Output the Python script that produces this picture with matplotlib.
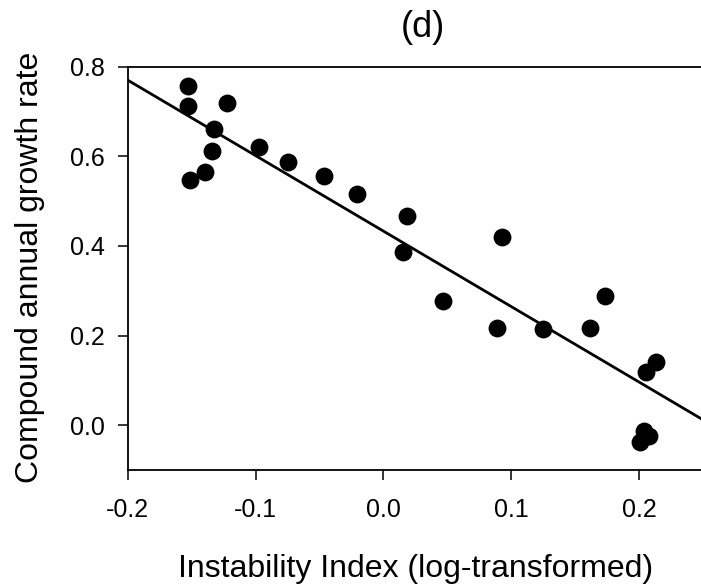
import matplotlib
matplotlib.use("Agg")
import matplotlib.pyplot as plt

plt.rcParams["font.family"] = ["Liberation Sans", "DejaVu Sans"]

# instability index (log-transformed) vs compound annual growth rate
instability = [-0.1525, -0.153, -0.122, -0.1329, -0.1337, -0.1397, -0.1512,
               -0.0973, -0.0749, -0.0462, -0.0205, 0.0187, 0.0155, 0.0926,
               0.0463, 0.0886, 0.1252, 0.1617, 0.1735, 0.2135, 0.2054,
               0.2041, 0.208, 0.2009]
growth = [0.757, 0.712, 0.720, 0.660, 0.612, 0.566, 0.547,
          0.620, 0.587, 0.556, 0.516, 0.467, 0.386, 0.419,
          0.278, 0.216, 0.214, 0.216, 0.289, 0.142, 0.119,
          -0.013, -0.024, -0.038]

# regression line end points
fit_x = [-0.2, 0.25]
fit_y = [0.770, 0.012]

fig = plt.figure(figsize=(7.01, 5.87), dpi=100)
ax = fig.add_axes([0.1822, 0.1993, 0.8207, 0.6871])

ax.plot(fit_x, fit_y, color="black", lw=2.0, zorder=2)
ax.scatter(instability, growth, s=165, color="black", linewidths=0, zorder=3)

ax.set_xlim(-0.2, 0.25)
ax.set_ylim(-0.1, 0.8)
ax.set_xticks([-0.2, -0.1, 0.0, 0.1, 0.2])
ax.set_yticks([0.0, 0.2, 0.4, 0.6, 0.8])
ax.set_xticklabels(["-0.2", "-0.1", "0.0", "0.1", "0.2"])
ax.set_yticklabels(["0.0", "0.2", "0.4", "0.6", "0.8"])

ax.spines["right"].set_visible(False)
for s in ["left", "bottom", "top"]:
    ax.spines[s].set_linewidth(1.3)
ax.tick_params(direction="out", length=7.5, width=1.1, labelsize=18,
               top=False, right=False)
ax.tick_params(axis="x", pad=13)
ax.tick_params(axis="y", pad=9)

ax.set_xlabel("Instability Index (log-transformed)", fontsize=23, va="baseline")
ax.xaxis.set_label_coords(0.5, -0.2646)
ax.set_ylabel("Compound annual growth rate", fontsize=23)
ax.yaxis.set_label_coords(-0.1441, 0.502)

ax.set_title("(d)", fontsize=26, x=0.513, y=1.053, va="baseline")

fig.savefig("out.png", dpi=100)
